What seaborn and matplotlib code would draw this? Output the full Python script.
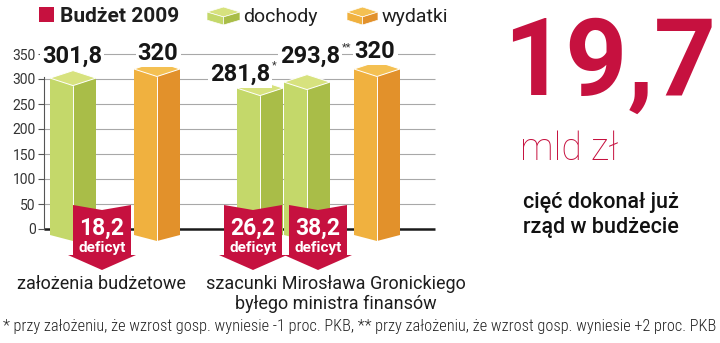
import numpy as np
import pandas as pd
import matplotlib
matplotlib.use("Agg")
import matplotlib.pyplot as plt
from matplotlib import font_manager
from matplotlib.patches import Polygon, Rectangle
import seaborn as sns

# ---------------- data ----------------
bar_series = ["dochody", "wydatki", "dochody", "dochody", "wydatki"]
bar_values = [301.8, 320, 281.8, 293.8, 320]
bar_marks = ["", "", "*", "**", ""]
deficits = [18.2, 26.2, 38.2]
group_labels = ["założenia budżetowe",
                "szacunki Mirosława Gronickiego\nbyłego ministra finansów"]
y_ticks = [0, 50, 100, 150, 200, 250, 300, 350]
legend_title = "Budżet 2009"
legend_series = ["dochody", "wydatki"]
headline_value = "19,7"
headline_unit = "mld zł"
headline_note = ["cięć dokonał już", "rząd w budżecie"]
footnote = ("* przy założeniu, że wzrost gosp. wyniesie -1 proc. PKB, "
            "** przy założeniu, że wzrost gosp. wyniesie +2 proc. PKB")

# ---------------- layout (pixels) ----------------
W, H = 720, 343
bar_centers = [73, 157, 260, 307, 377]
bar_w = 46
label_dx = [-1, 1, -20, 3, -2]          # label shift from bar centre (px)
label_dy = [30.2, 18, 14.2, 38.2, 22]   # baseline above value (axis units)
arrow_centers = [102, 253, 318]
group_x = [101, 336]

RED = "#c6113f"
COL = {
    "dochody": dict(top="#d7e27e", left="#c4d86a", right="#a9bd48"),
    "wydatki": dict(top="#f4c052", left="#f0b13f", right="#e2912b"),
}

sns.set_theme(style="white")
plt.rcParams["font.family"] = ["Roboto", "DejaVu Sans"]
names = {f.name for f in font_manager.fontManager.ttflist}
NARROW = "Roboto Condensed" if "Roboto Condensed" in names else (
    "Liberation Sans Narrow" if "Liberation Sans Narrow" in names else "Roboto")

fig = plt.figure(figsize=(W / 100, H / 100), dpi=100)
fig.patch.set_facecolor("white")


def fx(x):
    return x / W


def fy(y):
    return 1 - y / H


# axis: x in pixels, y in bln zł (0.5 px per unit), zero at y=229 px
ax_top, ax_bot, ax_l, ax_r = 20, 275, 44, 440
ax = fig.add_axes([fx(ax_l), fy(ax_bot), (ax_r - ax_l) / W, (ax_bot - ax_top) / H])
zero_px = 229
ax.set_xlim(ax_l, ax_r)
ax.set_ylim(-(ax_bot - zero_px) * 2, (zero_px - ax_top) * 2)
ax.set_facecolor("none")

df = pd.DataFrame({"pos": bar_centers, "value": bar_values, "series": bar_series})
spacing = float(np.min(np.diff(sorted(bar_centers))))
sns.barplot(data=df, x="pos", y="value", hue="series", native_scale=True,
            width=bar_w / spacing, dodge=False, legend=False, saturation=1,
            palette={k: v["left"] for k, v in COL.items()},
            linewidth=0, ax=ax, zorder=3)

# gridlines and axes lines
ax.hlines(y_ticks[1:], ax_l, 435, color="#a8a8a8", lw=0.8, zorder=1)
ax.hlines(0, ax_l, 435, color="#1a1a1a", lw=1.8, zorder=2)
for s in ["top", "right", "bottom"]:
    ax.spines[s].set_visible(False)
ax.spines["left"].set_color("#555555")
ax.spines["left"].set_linewidth(0.8)
ax.spines["left"].set_bounds(0, 305)
ax.set_yticks(y_ticks)
ax.set_yticklabels([str(t) for t in y_ticks], fontsize=10, color="#333333")
ax.tick_params(axis="y", length=4, width=0.8, color="#555555", pad=2, left=True)
ax.set_xticks([])
ax.set_xlabel("")
ax.set_ylabel("")

# 3-D decoration for each bar, built from the drawn rectangles
cap = 15
bot_side, bot_mid = -12, -24
rects = sorted([p for p in ax.patches if isinstance(p, Rectangle)],
               key=lambda p: p.get_x())
for i, p in enumerate(rects):
    l = p.get_x()
    r = l + p.get_width()
    cx = (l + r) / 2
    v = p.get_height()
    c = COL[bar_series[i]]
    ax.add_patch(Polygon([(l, 0), (cx, 0), (cx, bot_mid), (l, bot_side)],
                         closed=True, fc=c["left"], ec="none", zorder=3.1))
    ax.add_patch(Polygon([(cx, v - cap), (r, v), (r, bot_side), (cx, bot_mid)],
                         closed=True, fc=c["right"], ec="none", zorder=3.1))
    ax.add_patch(Polygon([(l, v), (cx, v + cap), (r, v), (cx, v - cap)],
                         closed=True, fc=c["top"], ec="white", lw=0.7, zorder=3.2))
    ax.plot([cx, cx], [bot_mid, v - cap], color="white", lw=0.7, zorder=3.2)

    txt_val = f"{v:.1f}".replace(".", ",") if v % 1 else f"{int(v)}"
    t = ax.text(cx + label_dx[i], v + label_dy[i], txt_val, ha="center",
                va="baseline", fontsize=17, fontweight="bold", color="#161616",
                zorder=6,
                bbox=dict(fc="white", ec="none", pad=1.5))
    if bar_marks[i]:
        ax.annotate(bar_marks[i], xy=(1, 1), xycoords=t, xytext=(1, 2),
                    textcoords="offset points", ha="left", va="top",
                    fontsize=8, color="#333333", zorder=6)

# deficit arrows
top_y, notch, head_y, tip_y = 48, 10, -52, -82
bw, hw = 29, 34
for cx, d in zip(arrow_centers, deficits):
    pts = [(cx - bw, top_y), (cx, top_y - notch), (cx + bw, top_y),
           (cx + bw, head_y), (cx + hw, head_y), (cx, tip_y),
           (cx - hw, head_y), (cx - bw, head_y)]
    ax.add_patch(Polygon(pts, closed=True, fc=RED, ec="none", zorder=5))
    ax.text(cx, -12, f"{d:.1f}".replace(".", ","), ha="center", va="baseline",
            fontsize=16.5, fontweight="bold", color="white", zorder=6)
    ax.text(cx, -46, "deficyt", ha="center", va="baseline",
            fontsize=11, fontweight="bold", color="white", zorder=6)

# group labels under the bars
for gx, g in zip(group_x, group_labels):
    for k, line in enumerate(g.split("\n")):
        fig.text(fx(gx), fy(289 + 20 * k), line, ha="center", va="baseline",
                 fontsize=13, color="#1e1e1e")

# legend
fig.add_artist(Rectangle((fx(39), fy(22)), 15 / W, 15 / H, transform=fig.transFigure,
                         fc=RED, ec="none"))
fig.text(fx(60), fy(22), legend_title, ha="left", va="baseline", fontsize=15,
         fontweight="bold", color="#1e1e1e")


def cube(x0, x1, y0, y1, c):
    xm = x0 + (x1 - x0) * 0.5
    yt = y0 + (y1 - y0) * 0.28
    yf = y0 + (y1 - y0) * 0.55
    faces = [
        ([(x0, yt), (xm, y0), (x1, yt), (xm, yf)], c["top"]),
        ([(x0, yt), (xm, yf), (xm, y1), (x0, y1 - (yf - yt))], c["left"]),
        ([(xm, yf), (x1, yt), (x1, y1 - (yf - yt)), (xm, y1)], c["right"]),
    ]
    for pts, col in faces:
        fig.add_artist(Polygon([(fx(a), fy(b)) for a, b in pts], closed=True,
                               transform=fig.transFigure, fc=col, ec="white", lw=0.5))


for (x0, x1, tx), name in zip([(207, 240, 243), (347, 378, 382)], legend_series):
    cube(x0, x1, 7, 25, COL[name])
    fig.text(fx(tx), fy(22), name, ha="left", va="baseline", fontsize=14,
             color="#1e1e1e")

# headline on the right
fig.text(fx(610), fy(95), headline_value, ha="center", va="baseline", fontsize=78,
         fontweight="bold", color=RED)
fig.text(fx(520), fy(160), headline_unit, ha="left", va="baseline", fontsize=27,
         fontweight="light", color=RED)
for k, line in enumerate(headline_note):
    fig.text(fx(601), fy(208 + 25 * k), line, ha="center", va="baseline",
             fontsize=15.5, fontweight="medium", color="#111111")

# footnote, sized to span the width of the figure
fn = fig.text(fx(3), fy(331), footnote, ha="left", va="baseline", fontsize=9,
              fontweight="light", color="#222222", family=[NARROW, "DejaVu Sans"])
renderer = fig.canvas.get_renderer()
wpx = fn.get_window_extent(renderer).width
fn.set_fontsize(9 * 714 / wpx)

fig.savefig("out.png", dpi=100, facecolor="white")
